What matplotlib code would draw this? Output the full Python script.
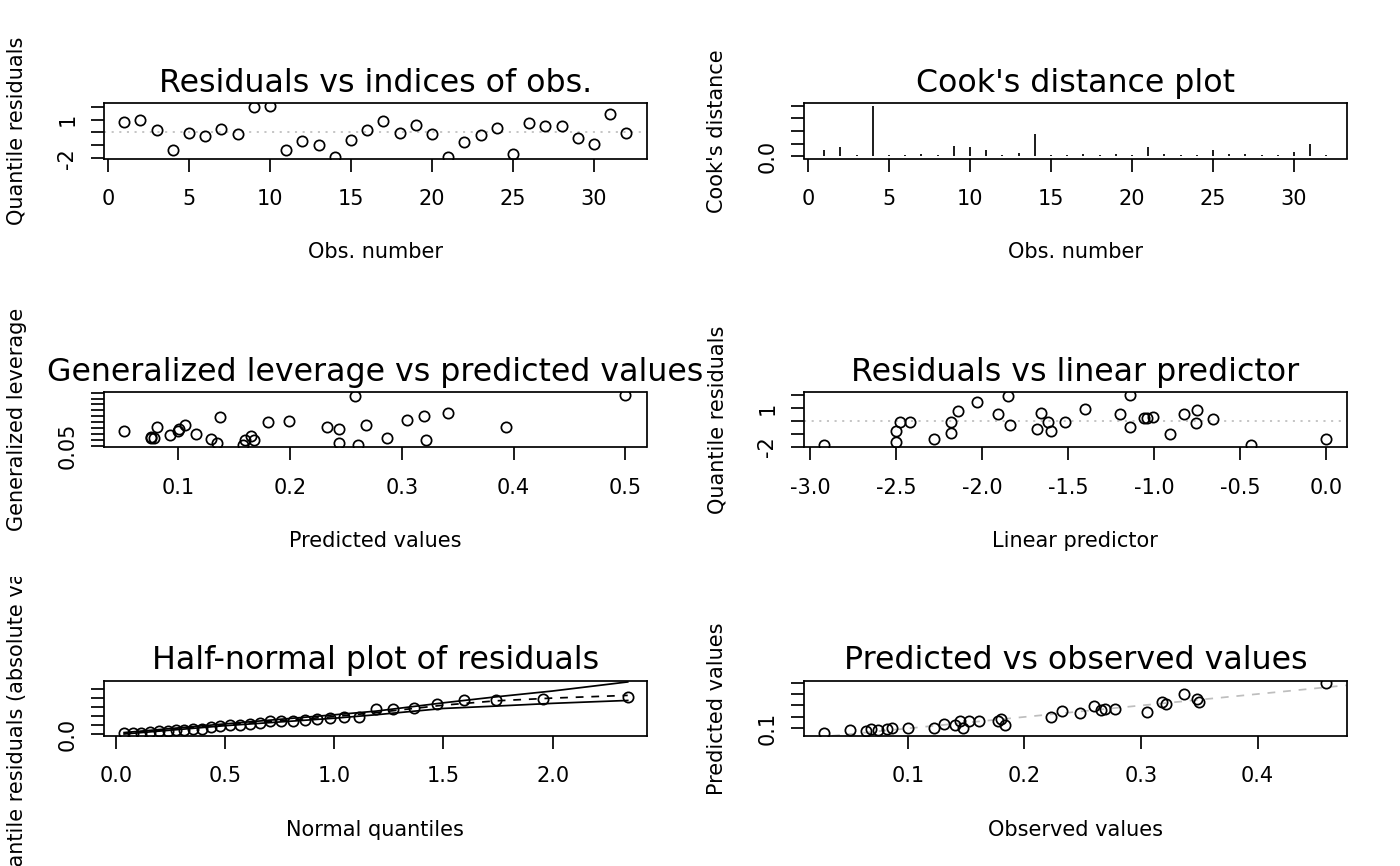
import matplotlib
matplotlib.use("Agg")
import matplotlib.pyplot as plt
from matplotlib.transforms import ScaledTranslation, Bbox, TransformedBbox

# ------------------------------------------------------------
# data
# ------------------------------------------------------------
obs_index = list(range(1, 33))

resid = [0.77, 0.93, 0.15, -1.37, -0.03, -0.28, 0.28, -0.13, 1.94, 2.06,
         -1.37, -0.70, -0.95, -1.88, -0.59, 0.21, 0.85, -0.05, 0.57, -0.15,
         -1.88, -0.72, -0.21, 0.36, -1.68, 0.70, 0.52, 0.49, -0.46, -0.88,
         1.42, -0.03]

cook = [0.053, 0.073, 0.015, 0.40, 0.012, 0.015, 0.023, 0.012, 0.086, 0.076,
        0.048, 0.015, 0.025, 0.18, 0.012, 0.010, 0.018, 0.012, 0.02, 0.012,
        0.073, 0.018, 0.015, 0.014, 0.053, 0.018, 0.023, 0.014, 0.015, 0.038,
        0.10, 0.012]

lev_pred = [0.051, 0.076, 0.076, 0.078, 0.081, 0.093, 0.100, 0.101, 0.106, 0.116,
            0.129, 0.135, 0.137, 0.158, 0.160, 0.165, 0.168, 0.180, 0.199, 0.233,
            0.244, 0.244, 0.258, 0.261, 0.268, 0.287, 0.305, 0.320, 0.322, 0.341,
            0.393, 0.500]
leverage = [0.170, 0.116, 0.120, 0.118, 0.212, 0.141, 0.175, 0.192, 0.229, 0.150,
            0.107, 0.070, 0.292, 0.056, 0.098, 0.127, 0.093, 0.247, 0.255, 0.204,
            0.190, 0.070, 0.469, 0.056, 0.221, 0.116, 0.269, 0.298, 0.093, 0.329,
            0.212, 0.483]

lin_pred = [-2.92, -2.50, -2.50, -2.48, -2.42, -2.28, -2.18, -2.18, -2.14, -2.03,
            -1.91, -1.85, -1.84, -1.68, -1.66, -1.62, -1.60, -1.52, -1.40, -1.20,
            -1.14, -1.14, -1.06, -1.04, -1.01, -0.91, -0.83, -0.75, -0.76, -0.66,
            -0.44, 0.00]
resid_lp = [-1.88, -1.62, -0.76, -0.10, -0.05, -1.36, -0.89, -0.05, 0.81, 1.44,
            0.55, 1.97, -0.31, -0.63, 0.65, -0.10, -0.76, -0.05, 0.91, 0.57,
            2.05, -0.47, 0.26, 0.26, 0.34, -0.97, 0.52, 0.86, -0.16, 0.16,
            -1.88, -1.36]

hn_quant = [0.037, 0.076, 0.115, 0.156, 0.195, 0.236, 0.273, 0.311, 0.352, 0.393,
            0.434, 0.477, 0.520, 0.568, 0.615, 0.660, 0.707, 0.754, 0.810, 0.865,
            0.920, 0.980, 1.045, 1.113, 1.190, 1.270, 1.365, 1.470, 1.594, 1.742,
            1.957, 2.344]
hn_resid = [0.03, 0.03, 0.05, 0.13, 0.15, 0.15, 0.21, 0.21, 0.28, 0.28,
            0.36, 0.46, 0.49, 0.52, 0.57, 0.59, 0.70, 0.70, 0.72, 0.77,
            0.85, 0.88, 0.93, 0.95, 1.37, 1.37, 1.42, 1.68, 1.88, 1.88,
            1.94, 2.06]
env_x = [0.037, 0.5, 1.0, 1.19, 1.5, 1.742, 2.0, 2.344]
env_upper = [0.08, 0.56, 1.06, 1.26, 1.72, 2.05, 2.37, 2.87]
env_mean = [0.05, 0.50, 0.96, 1.18, 1.59, 1.83, 1.98, 2.13]
env_lower = [0.00, 0.46, 0.87, 1.06, 1.41, 1.54, 1.69, 1.85]

observed = [0.028, 0.050, 0.064, 0.068, 0.074, 0.082, 0.086, 0.100, 0.122, 0.131,
            0.140, 0.145, 0.147, 0.152, 0.161, 0.177, 0.180, 0.183, 0.223, 0.232,
            0.248, 0.260, 0.266, 0.269, 0.278, 0.305, 0.318, 0.321, 0.337, 0.348,
            0.350, 0.459]
predicted = [0.059, 0.082, 0.076, 0.094, 0.082, 0.094, 0.103, 0.103, 0.103, 0.138,
             0.132, 0.162, 0.103, 0.168, 0.168, 0.162, 0.185, 0.132, 0.197, 0.250,
             0.232, 0.294, 0.259, 0.265, 0.265, 0.244, 0.332, 0.309, 0.403, 0.353,
             0.329, 0.500]

# ------------------------------------------------------------
# layout (pixel geometry of the R device, 3 x 2 panels)
# ------------------------------------------------------------
W, H, DPI = 1400, 866, 100
fig = plt.figure(figsize=(W / DPI, H / DPI), dpi=DPI)
plt.rcParams['font.family'] = ['DejaVu Sans']

LAB = 15
MAIN = 22.8
LW = 1.25
GREY = '#BEBEBE'


def px(dx, dy=0):
    return ScaledTranslation(dx / DPI, dy / DPI, fig.dpi_scale_trans)


def panel(col, row, title, xlab, ylab, xlim, ylim, xt, xtl, yt, ytl):
    left = 104 + col * 700
    top = 103.5 + row * 288.67
    w, h = 542.5, 55
    ax = fig.add_axes([left / W, 1 - (top + h) / H, w / W, h / H])
    ax.set_xlim(xlim)
    ax.set_ylim(ylim)
    ax.set_xticks(xt)
    ax.set_yticks(yt)
    ax.tick_params(direction='out', length=9.15, width=LW,
                   labelbottom=False, labelleft=False)
    for s in ax.spines.values():
        s.set_linewidth(LW)

    for v, t in zip(xt, xtl):
        ax.text(v, 0, t, transform=ax.get_xaxis_transform() + px(0, -46.5),
                ha='center', va='baseline', fontsize=LAB, clip_on=False)
    for v, t in zip(yt, ytl):
        if t:
            ax.text(0, v, t, transform=ax.get_yaxis_transform() + px(-30.5, 0),
                    rotation=90, rotation_mode='anchor', ha='center',
                    va='baseline', fontsize=LAB, clip_on=False)

    ax.text(0.5, 1, title, transform=ax.transAxes + px(0, 11.6),
            ha='center', va='baseline', fontsize=MAIN, clip_on=False)
    ax.text(0.5, 0, xlab, transform=ax.transAxes + px(0, -100),
            ha='center', va='baseline', fontsize=LAB, clip_on=False)
    yl = ax.text(0, 0.5, ylab, transform=ax.transAxes + px(-81, 0),
                 rotation=90, rotation_mode='anchor', ha='center',
                 va='baseline', fontsize=LAB)
    # R clips margin text to the figure region of the panel
    region = Bbox([[col * 0.5, 1 - (row + 1) / 3], [(col + 1) * 0.5, 1 - row / 3]])
    yl.set_clip_on(True)
    yl.set_clip_box(TransformedBbox(region, fig.transFigure))
    return ax


def circles(ax, x, y):
    ax.plot(x, y, 'o', mfc='none', mec='black', ms=7.4, mew=1.25)


idx_ticks = [0, 5, 10, 15, 20, 25, 30]
idx_labels = ['0', '5', '10', '15', '20', '25', '30']

# 1. residuals vs indices
ax1 = panel(0, 0, 'Residuals vs indices of obs.', 'Obs. number', 'Quantile residuals',
            (-0.24, 33.24), (-2.02, 2.24), idx_ticks, idx_labels,
            [-2, -1, 0, 1, 2], ['-2', '', '', '1', ''])
ax1.axhline(0, color=GREY, lw=LW, linestyle=(0, (1.2, 3.2)))
circles(ax1, obs_index, resid)

# 2. Cook's distance
ax2 = panel(1, 0, "Cook's distance plot", 'Obs. number', "Cook's distance",
            (-0.24, 33.24), (-0.016, 0.416), idx_ticks, idx_labels,
            [0.0, 0.1, 0.2, 0.3, 0.4], ['0.0', '', '', '', ''])
ax2.vlines(obs_index, 0, cook, colors='black', lw=LW)

# 3. generalized leverage vs predicted
lev_ticks = [0.05, 0.10, 0.15, 0.20, 0.25, 0.30, 0.35, 0.40, 0.45, 0.50]
ax3 = panel(0, 1, 'Generalized leverage vs predicted values', 'Predicted values',
            'Generalized leverage', (0.0335, 0.519), (0.036, 0.505),
            [0.1, 0.2, 0.3, 0.4, 0.5], ['0.1', '0.2', '0.3', '0.4', '0.5'],
            lev_ticks, ['0.05'] + [''] * 9)
circles(ax3, lev_pred, leverage)

# 4. residuals vs linear predictor
ax4 = panel(1, 1, 'Residuals vs linear predictor', 'Linear predictor', 'Quantile residuals',
            (-3.035, 0.117), (-2.02, 2.24),
            [-3.0, -2.5, -2.0, -1.5, -1.0, -0.5, 0.0],
            ['-3.0', '-2.5', '-2.0', '-1.5', '-1.0', '-0.5', '0.0'],
            [-2, -1, 0, 1, 2], ['-2', '', '', '1', ''])
ax4.axhline(0, color=GREY, lw=LW, linestyle=(0, (1.2, 3.2)))
circles(ax4, lin_pred, resid_lp)

# 5. half-normal plot
ax5 = panel(0, 2, 'Half-normal plot of residuals', 'Normal quantiles',
            'Quantile residuals (absolute values)', (-0.055, 2.43), (-0.1, 2.93),
            [0.0, 0.5, 1.0, 1.5, 2.0], ['0.0', '0.5', '1.0', '1.5', '2.0'],
            [0.0, 0.5, 1.0, 1.5, 2.0, 2.5], ['0.0', '', '', '', '', ''])
circles(ax5, hn_quant, hn_resid)
ax5.plot(env_x, env_upper, color='black', lw=LW)
ax5.plot(env_x, env_lower, color='black', lw=LW)
ax5.plot(env_x, env_mean, color='black', lw=LW, linestyle=(0, (4.5, 4.5)))

# 6. predicted vs observed
ax6 = panel(1, 2, 'Predicted vs observed values', 'Observed values', 'Predicted values',
            (0.0109, 0.4762), (0.035, 0.515),
            [0.1, 0.2, 0.3, 0.4], ['0.1', '0.2', '0.3', '0.4'],
            [0.1, 0.2, 0.3, 0.4, 0.5], ['0.1', '', '', '', ''])
ax6.axline((0, 0), slope=1, color=GREY, lw=LW, linestyle=(0, (4.5, 4.5)))
circles(ax6, observed, predicted)

fig.savefig('out.png', dpi=DPI)
